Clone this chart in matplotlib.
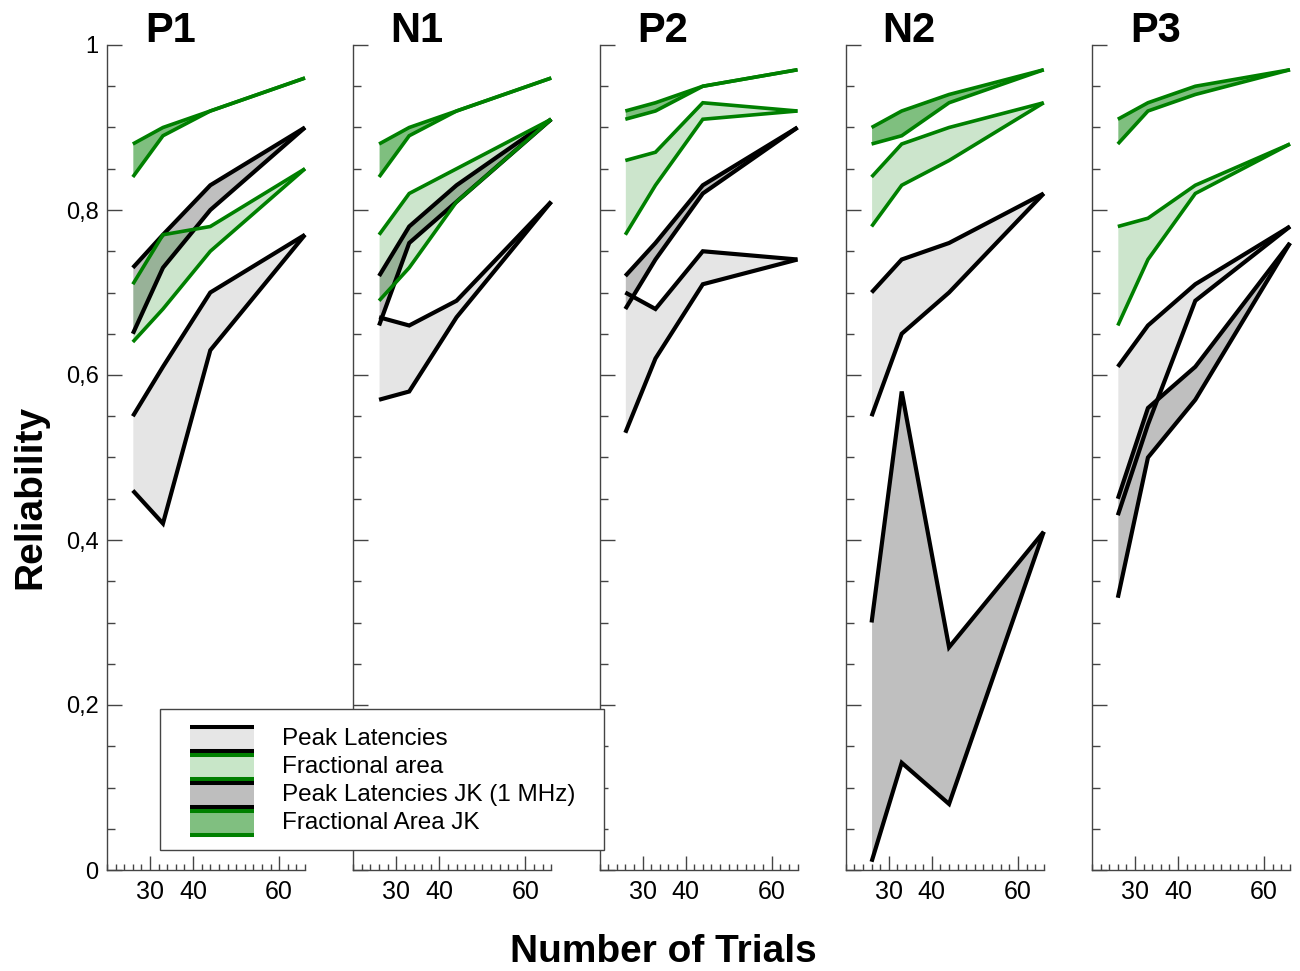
import matplotlib
matplotlib.use("Agg")
import matplotlib.pyplot as plt
from matplotlib.ticker import MultipleLocator, FixedLocator, FuncFormatter
from matplotlib.legend_handler import HandlerBase
from matplotlib.patches import Patch, Rectangle
from matplotlib.lines import Line2D

plt.rcParams['font.family'] = ['Liberation Sans', 'DejaVu Sans']

# Data
trials = [26, 33, 44, 66]
panels = ["P1", "N1", "P2", "N2", "P3"]

# Peak Latencies (upper / lower bound)
pl_hi = [[0.55, 0.61, 0.70, 0.77],
         [0.67, 0.66, 0.69, 0.81],
         [0.70, 0.68, 0.75, 0.74],
         [0.70, 0.74, 0.76, 0.82],
         [0.61, 0.66, 0.71, 0.78]]
pl_lo = [[0.46, 0.42, 0.63, 0.77],
         [0.57, 0.58, 0.67, 0.81],
         [0.53, 0.62, 0.71, 0.74],
         [0.55, 0.65, 0.70, 0.82],
         [0.43, 0.54, 0.69, 0.78]]

# Fractional area
fa_hi = [[0.71, 0.77, 0.78, 0.85],
         [0.77, 0.82, 0.85, 0.91],
         [0.86, 0.87, 0.93, 0.92],
         [0.84, 0.88, 0.90, 0.93],
         [0.78, 0.79, 0.83, 0.88]]
fa_lo = [[0.64, 0.68, 0.75, 0.85],
         [0.69, 0.73, 0.81, 0.91],
         [0.77, 0.83, 0.91, 0.92],
         [0.78, 0.83, 0.86, 0.93],
         [0.66, 0.74, 0.82, 0.88]]

# Peak Latencies JK (1 MHz)
jk_hi = [[0.73, 0.77, 0.83, 0.90],
         [0.72, 0.78, 0.83, 0.91],
         [0.72, 0.76, 0.83, 0.90],
         [0.30, 0.58, 0.27, 0.41],
         [0.45, 0.56, 0.61, 0.76]]
jk_lo = [[0.65, 0.73, 0.80, 0.90],
         [0.66, 0.76, 0.81, 0.91],
         [0.68, 0.74, 0.82, 0.90],
         [0.01, 0.13, 0.08, 0.41],
         [0.33, 0.50, 0.57, 0.76]]

# Fractional Area JK
fajk_hi = [[0.88, 0.90, 0.92, 0.96],
           [0.88, 0.90, 0.92, 0.96],
           [0.92, 0.93, 0.95, 0.97],
           [0.90, 0.92, 0.94, 0.97],
           [0.91, 0.93, 0.95, 0.97]]
fajk_lo = [[0.84, 0.89, 0.92, 0.96],
           [0.84, 0.89, 0.92, 0.96],
           [0.91, 0.92, 0.95, 0.97],
           [0.88, 0.89, 0.93, 0.97],
           [0.88, 0.92, 0.94, 0.97]]

legend_labels = ["Peak Latencies", "Fractional area",
                 "Peak Latencies JK (1 MHz)", "Fractional Area JK"]

GREEN = "#008000"
LW_K = 3.0
LW_G = 2.6


def band(ax, hi, lo, fill, alpha, edge, lw):
    ax.fill_between(trials, lo, hi, color=fill, alpha=alpha, lw=0)
    for s in (hi, lo):
        ax.plot(trials, s, color=edge, lw=lw, solid_joinstyle='miter',
                solid_capstyle='butt', clip_on=False)


def yfmt(v, pos):
    if abs(v) < 1e-9:
        return "0"
    if abs(v - 1) < 1e-9:
        return "1"
    return f"{v:.1f}".replace(".", ",")


fig = plt.figure(figsize=(13, 9.71), dpi=100)

for i, name in enumerate(panels):
    ax = fig.add_axes([(107 + i * 246.25) / 1300, 101 / 971, 198 / 1300, 825 / 971])
    band(ax, jk_hi[i], jk_lo[i], "#bfbfbf", 1.0, "black", LW_K)
    band(ax, pl_hi[i], pl_lo[i], "#b5b5b5", 0.35, "black", LW_K)
    band(ax, fa_hi[i], fa_lo[i], GREEN, 0.2, GREEN, LW_G)
    band(ax, fajk_hi[i], fajk_lo[i], GREEN, 0.5, GREEN, LW_G)

    ax.set_xlim(20, 66)
    ax.set_ylim(0, 1)
    for s in ("top", "right"):
        ax.spines[s].set_visible(False)
    for s in ("left", "bottom"):
        ax.spines[s].set_color("#444444")
        ax.spines[s].set_linewidth(1.0)

    ax.xaxis.set_major_locator(FixedLocator([30, 40, 60]))
    ax.xaxis.set_minor_locator(MultipleLocator(2))
    ax.yaxis.set_major_locator(MultipleLocator(0.2))
    ax.yaxis.set_minor_locator(MultipleLocator(0.05))
    ax.yaxis.set_major_formatter(FuncFormatter(yfmt))

    ax.tick_params(axis="y", which="major", direction="in", length=11, width=1,
                   color="#444444", labelsize=17, pad=6)
    ax.tick_params(axis="y", which="minor", direction="in", length=6, width=1,
                   color="#444444")
    ax.tick_params(axis="x", which="major", direction="in", length=10, width=1,
                   color="#444444", labelsize=18, pad=7)
    ax.tick_params(axis="x", which="minor", direction="in", length=4.5, width=1,
                   color="#444444")
    if i > 0:
        ax.tick_params(axis="y", labelleft=False)

    ax.text(0.32, 1.004, name, transform=ax.transAxes, ha="center",
            va="baseline", fontsize=30, fontweight="bold")


class BandHandler(HandlerBase):
    def create_artists(self, legend, orig_handle, xdescent, ydescent,
                       width, height, fontsize, trans):
        x0 = -xdescent + 10
        w = width - 10
        y0 = -ydescent - 0.1 * height
        h = height * 1.0
        fc = orig_handle.get_facecolor()
        ec = orig_handle.get_edgecolor()
        rect = Rectangle((x0, y0), w, h, facecolor=fc, edgecolor="none",
                         transform=trans)
        top = Line2D([x0, x0 + w], [y0 + h, y0 + h], color=ec, lw=2.9,
                     solid_capstyle="butt", transform=trans)
        bot = Line2D([x0, x0 + w], [y0, y0], color=ec, lw=2.9,
                     solid_capstyle="butt", transform=trans)
        return [rect, top, bot]


handles = [Patch(facecolor="#e6e6e6", edgecolor="black"),
           Patch(facecolor="#c8e6c8", edgecolor=GREEN),
           Patch(facecolor="#bebebe", edgecolor="black"),
           Patch(facecolor="#80bf80", edgecolor=GREEN)]

leg = fig.legend(handles, legend_labels, handler_map={Patch: BandHandler()},
                 loc="upper left",
                 bbox_to_anchor=(160 / 1300, 1 - 844 / 971, 444 / 1300, 135 / 971),
                 mode="expand", borderaxespad=0, fontsize=17.5,
                 handlelength=3.2, handleheight=1.12, handletextpad=1.15,
                 labelspacing=0.12, borderpad=0.65, fancybox=False,
                 framealpha=1, edgecolor="#444444")
leg.get_frame().set_linewidth(1.0)

fig.text(30 / 1300, 1 - 497 / 971, "Reliability", rotation=90, ha="center",
         va="center", fontsize=28, fontweight="bold")
fig.text(663 / 1300, 1 - 962 / 971, "Number of Trials", ha="center",
         va="baseline", fontsize=28, fontweight="bold")

fig.savefig("out.png", dpi=100)
